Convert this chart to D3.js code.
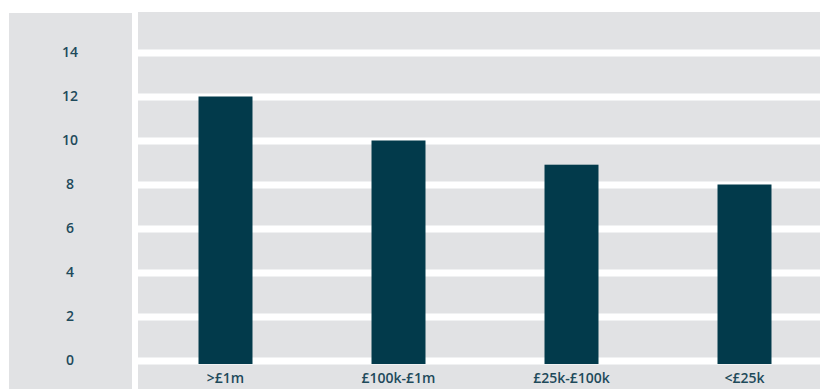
<!DOCTYPE html>
<html>
<head>
<meta charset="utf-8">
<script src="https://cdn.jsdelivr.net/npm/d3@7"></script>
<style>
  body { margin: 0; background: #fff; }
  text { font-family: "Open Sans", sans-serif; font-weight: 600; fill: #1e4a5b; }
</style>
</head>
<body>
<script>
var categories = [">£1m", "£100k-£1m", "£25k-£100k", "<£25k"];
var values = [12, 10, 8.9, 8];
var yTicks = [0, 2, 4, 6, 8, 10, 12, 14];

var width = 820, height = 389;
var plotLeft = 138, plotTop = 12;

var svg = d3.select("body").append("svg")
    .attr("width", width)
    .attr("height", height);

var x = d3.scaleBand()
    .domain(categories)
    .range([139, 831])
    .paddingInner(0.688)
    .paddingOuter(0.344);

var y = d3.scaleLinear()
    .domain([0, 14])
    .range([360.5, 52.5]);

// left label panel
svg.append("rect")
    .attr("x", 9).attr("y", 13)
    .attr("width", 123).attr("height", height - 13)
    .attr("fill", "#e1e2e4");

// plot background
svg.append("rect")
    .attr("x", plotLeft).attr("y", plotTop)
    .attr("width", width - plotLeft).attr("height", height - plotTop)
    .attr("fill", "#e1e2e4");

// white gridlines
var grid = svg.append("g")
    .attr("transform", "translate(" + plotLeft + ",0)")
    .call(d3.axisLeft(y).tickValues(yTicks).tickSize(-(width - plotLeft)).tickFormat(""));
grid.select(".domain").remove();
grid.selectAll("line").attr("stroke", "#fff").attr("stroke-width", 7);

// y labels
var yAxis = svg.append("g")
    .attr("transform", "translate(70,0)")
    .call(d3.axisLeft(y).tickValues(yTicks).tickSize(0).tickPadding(0));
yAxis.select(".domain").remove();
yAxis.selectAll("text")
    .attr("text-anchor", "middle")
    .attr("font-size", "14px")
    .style("font-family", null);

// bars
svg.selectAll(".bar")
    .data(values)
    .enter().append("rect")
    .attr("class", "bar")
    .attr("x", function(d, i) { return x(categories[i]); })
    .attr("y", function(d) { return y(d); })
    .attr("width", x.bandwidth())
    .attr("height", function(d) { return y(0) + 3.5 - y(d); })
    .attr("fill", "#023a4b");

// x labels
var xAxis = svg.append("g")
    .attr("transform", "translate(0," + (y(0) + 3.5) + ")")
    .call(d3.axisBottom(x).tickSize(0).tickPadding(9));
xAxis.select(".domain").remove();
xAxis.selectAll("text")
    .attr("font-size", "14px")
    .style("font-family", null);
</script>
</body>
</html>
